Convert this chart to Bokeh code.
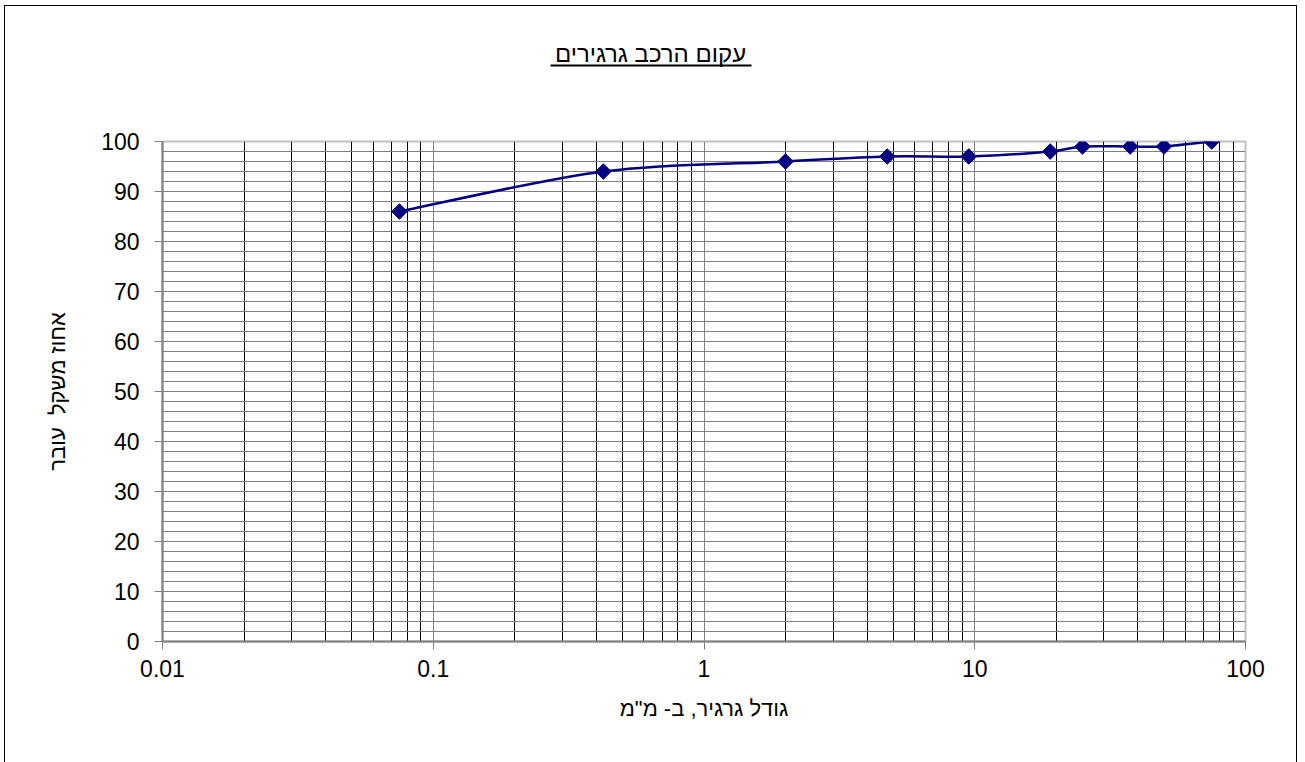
import math
from bokeh.plotting import figure
from bokeh.layouts import column
from bokeh.models import (FixedTicker, CustomJSTickFormatter, Label, BoxAnnotation, Range1d)
from bokeh.embed import file_html
from bokeh.resources import INLINE

# ---- data ----
sizes_mm = [0.075, 0.425, 2.0, 4.75, 9.5, 19.0, 25.0, 37.5, 50.0, 75.0]
passing_pct = [86, 94, 96, 97, 97, 98, 99, 99, 99, 100]
x_major = [0.01, 0.1, 1, 10, 100]
y_major = list(range(0, 101, 10))
y_minor = list(range(0, 101, 2))
title_text = "עקום הרכב גרגירים"
x_label = 'גודל גרגיר, ב- מ"מ'
y_label = "אחוז משקל\u00a0 עובר"

FONT = "Liberation Sans"
NAVY = "#000080"
W = 1291
BL, BR = 157, 51

# ---- title strip ----
pt = figure(width=W, height=115, x_range=Range1d(0, 1), y_range=Range1d(0, 1),
            output_backend="svg", toolbar_location=None,
            x_axis_location=None, y_axis_location=None, min_border=0,
            min_border_left=BL, min_border_right=BR)
pt.grid.visible = False
pt.outline_line_color = None
pt.background_fill_color = "white"
pt.border_fill_color = "white"
title = Label(x=645 - BL, y=68, x_units="screen", y_units="screen", text=title_text,
              text_font=FONT, text_font_size="24px",
              text_align="center", text_baseline="middle", text_color="black")
pt.add_layout(title)
ul = BoxAnnotation(left=545 - BL, right=746 - BL, top=57, bottom=55,
                   left_units="screen", right_units="screen",
                   top_units="screen", bottom_units="screen",
                   fill_color="black", fill_alpha=1.0, line_color=None)
pt.add_layout(ul)

# ---- main chart ----
p = figure(width=W, height=642, x_axis_type="log",
           x_range=Range1d(0.01, 100), y_range=Range1d(0, 100),
           output_backend="svg", toolbar_location=None,
           min_border_left=BL, min_border_right=BR,
           min_border_top=20, min_border_bottom=122)
p.background_fill_color = "white"
p.border_fill_color = "white"
p.outline_line_color = "#c0c0c0"
p.outline_line_width = 2

# minor x ticks at 2..9 per decade
x_minor = []
for d in range(-2, 2):
    for m in range(2, 10):
        x_minor.append(m * 10 ** d)

p.xaxis.ticker = FixedTicker(ticks=x_major, minor_ticks=x_minor)
p.yaxis.ticker = FixedTicker(ticks=y_major, minor_ticks=y_minor)
p.xaxis.formatter = CustomJSTickFormatter(code="return tick.toString();")

for ax in (p.xaxis[0], p.yaxis[0]):
    ax.axis_line_color = "#808080"
    ax.axis_line_width = 2
    ax.major_tick_line_color = "#808080"
    ax.major_tick_line_width = 1
    ax.major_tick_out = 8
    ax.major_tick_in = 0
    ax.minor_tick_line_color = None
    ax.major_label_text_font = FONT
    ax.major_label_text_font_size = "23px"
    ax.major_label_text_color = "black"
    ax.axis_label_text_font = FONT
    ax.axis_label_text_font_size = "22px"
    ax.axis_label_text_font_style = "normal"
    ax.axis_label_text_color = "black"

p.xaxis.axis_label = x_label
p.yaxis.axis_label = y_label
p.xaxis.major_label_standoff = 10
p.xaxis.axis_label_standoff = 16
p.yaxis.major_label_standoff = 15
p.yaxis.axis_label_standoff = 28

p.xgrid.grid_line_color = "#808080"
p.xgrid.grid_line_width = 1
p.xgrid.minor_grid_line_color = "#000000"
p.xgrid.minor_grid_line_width = 1
p.ygrid.grid_line_color = "#808080"
p.ygrid.grid_line_width = 1
p.ygrid.minor_grid_line_color = "#808080"
p.ygrid.minor_grid_line_width = 1

# smoothed line (Catmull-Rom style Bezier, computed in log-x space)
lx = [math.log10(v) for v in sizes_mm]
ly = list(passing_pct)
n = len(lx)
x0, y0, x1, y1, cx0, cy0, cx1, cy1 = [], [], [], [], [], [], [], []
t = 1.0 / 6.0
for i in range(n - 1):
    ip = max(i - 1, 0)
    inn = min(i + 2, n - 1)
    ax_ = lx[i] + (lx[i + 1] - lx[ip]) * t
    ay_ = ly[i] + (ly[i + 1] - ly[ip]) * t
    bx_ = lx[i + 1] - (lx[inn] - lx[i]) * t
    by_ = ly[i + 1] - (ly[inn] - ly[i]) * t
    x0.append(sizes_mm[i]); y0.append(passing_pct[i])
    x1.append(sizes_mm[i + 1]); y1.append(passing_pct[i + 1])
    cx0.append(10 ** ax_); cy0.append(ay_)
    cx1.append(10 ** bx_); cy1.append(by_)

p.bezier(x0=x0, y0=y0, x1=x1, y1=y1, cx0=cx0, cy0=cy0, cx1=cx1, cy1=cy1,
         line_color=NAVY, line_width=2.5)
p.scatter(sizes_mm, passing_pct, marker="square", angle=math.pi / 4,
          size=11, fill_color=NAVY, line_color=NAVY)

layout = column(pt, p, spacing=0)
layout.margin = (5, 0, 0, 4)
layout.styles = {"border-top": "1px solid #000000",
                 "border-left": "1px solid #000000",
                 "border-right": "1px solid #000000"}

open("out.html", "w").write(file_html(layout, INLINE))
